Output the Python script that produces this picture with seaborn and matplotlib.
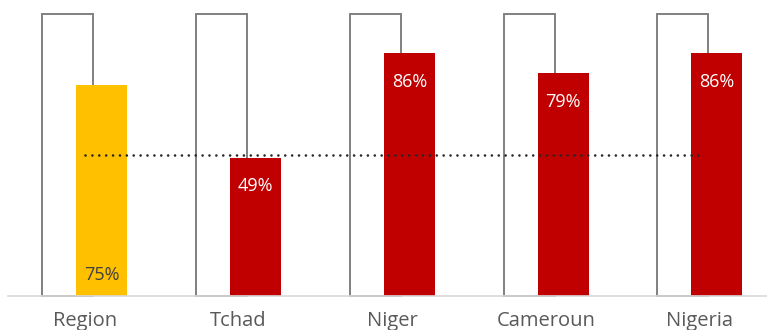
import matplotlib
matplotlib.use("Agg")
import matplotlib.pyplot as plt
import seaborn as sns
import pandas as pd

# Data
categories = ["Region", "Tchad", "Niger", "Cameroun", "Nigeria"]
values = [0.75, 0.49, 0.86, 0.79, 0.86]
capacity = [1.0, 1.0, 1.0, 1.0, 1.0]
target = 0.50
bar_colors = ["#FFC000", "#C00000", "#C00000", "#C00000", "#C00000"]

sns.set_theme(style="white")
plt.rcParams["font.family"] = ["Open Sans", "DejaVu Sans"]

df = pd.DataFrame({"cat": categories, "val": values, "cap": capacity})

fig = plt.figure(figsize=(7.67, 3.30), dpi=100)
W, H = 767, 330
ax = fig.add_axes([8 / W, 34 / H, 1 - 8 / W, (326 - 34) / H])

bar_w = 0.332
shift = 0.11

# Outline bars (100%)
sns.barplot(data=df, x="cat", y="cap", ax=ax, width=bar_w, fill=False,
            color="#808080", linewidth=1.4, errorbar=None, zorder=1)
outline = list(ax.patches)
for p in outline:
    p.set_x(p.get_x() - shift)
    p.set_edgecolor("#808080")
    p.set_clip_on(False)

# Filled value bars
sns.barplot(data=df, x="cat", y="val", hue="cat", palette=bar_colors,
            legend=False, ax=ax, width=bar_w, errorbar=None,
            linewidth=0, saturation=1, zorder=2)
filled = [p for p in ax.patches if p not in outline]
for p in filled:
    p.set_x(p.get_x() + shift)

# Target line
ax.plot([0, len(categories) - 1], [target, target], color="#262626",
        linewidth=1.9, linestyle=(0, (0.01, 2.6)), dash_capstyle="round",
        zorder=3)

# Value labels
for i, (v, c) in enumerate(zip(values, bar_colors)):
    xc = i + shift
    txt = f"{round(v * 100)}%"
    if c == "#FFC000":
        ax.annotate(txt, (xc, 0), xytext=(0, 15), textcoords="offset points",
                    ha="center", va="center", fontsize=13, color="#404040",
                    zorder=4)
    else:
        ax.annotate(txt, (xc, v), xytext=(0, -20.5), textcoords="offset points",
                    ha="center", va="center", fontsize=13, color="white",
                    zorder=4)

ax.set_xlim(-0.5, -0.5 + (W - 8) / 153.75)
ax.set_ylim(0, 1 + 10 / 282)
ax.set_yticks([])
ax.set_xlabel("")
ax.set_ylabel("")
for s in ["top", "right", "left"]:
    ax.spines[s].set_visible(False)
ax.spines["bottom"].set_color("#D9D9D9")
ax.spines["bottom"].set_linewidth(1.2)
ax.tick_params(axis="x", length=0, pad=11, labelsize=14.5, labelcolor="#595959")

fig.savefig("out.png", dpi=100)
